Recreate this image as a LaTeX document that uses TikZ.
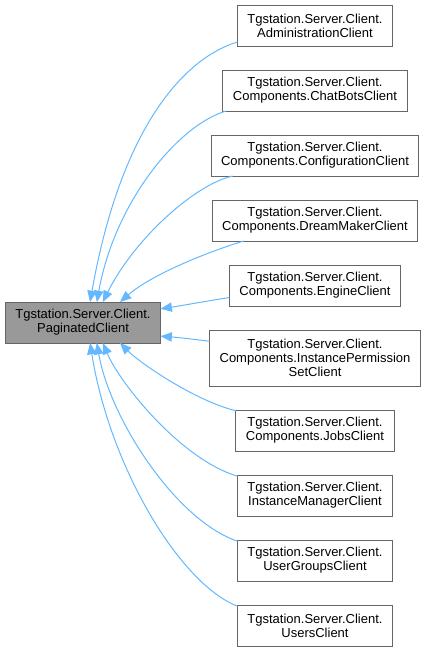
\documentclass[tikz,border=0pt]{standalone}
\usepackage{fontspec}
\setmainfont{Liberation Sans}
\usetikzlibrary{arrows.meta,chains,positioning}
\definecolor{edgeblue}{HTML}{63B8FF}
\definecolor{boxline}{HTML}{666666}
\definecolor{basefill}{HTML}{999999}

\begin{document}
\begin{tikzpicture}[
x=0.75pt, y=-0.75pt,
node distance=18pt,
 start chain = sub going below,
    cls/.style = {rectangle, draw=boxline, line width=0.75pt,% styles of class boxes
                  align=center, inner xsep=7.5pt, inner ysep=2pt,
                  minimum height=30.75pt, outer sep=0pt,
                  font=\fontsize{9.75}{10.5}\selectfont},
derived/.style = {cls, fill=white, on chain},% boxes in column (chain)
   edge/.style = {draw=edgeblue, line width=0.75pt,
                  -{Triangle[length=8.5pt,width=7pt]}},
                        ]
\useasboundingbox (0,0) rectangle (426,653);
\node[cls, fill=basefill] (base) at (83,322.5) {Tgstation.Server.Client.\\PaginatedClient};
\node[derived] at (315,25.5) {Tgstation.Server.Client.\\AdministrationClient};
\foreach \i in {ChatBotsClient,ConfigurationClient,DreamMakerClient,EngineClient}% <-- content of nodes
    \node[derived] {Tgstation.Server.Client.\\Components.\i};
\node[derived, minimum height=42pt] {Tgstation.Server.Client.\\Components.InstancePermission\\SetClient};
\node[derived] {Tgstation.Server.Client.\\Components.JobsClient};
\foreach \i in {InstanceManagerClient,UserGroupsClient,UsersClient}% <-- content of nodes
    \node[derived] {Tgstation.Server.Client.\\\i};
% inheritance edges
\foreach \j/\s/\e/\ax/\ay/\bx/\by in {
    1/192/71/-56/17/30/-170,
    2/193/56/-48/14/18/-100,
    3/194/46/-37/8/32/-64,
    4/196/29/-42/13/30/-26,
    5/188/10/-20/3/20/-3,
    6/171/-10/-15/-2/15/1,
    7/166/-29/-41/-10/20/20,
    8/166/-46/-57/-17/17/40,
    9/166/-56/-62/-21/13/75,
    10/166/-71/-57/-22/20/125}
    \draw[edge] (sub-\j.\s) .. controls +(\ax,\ay) and +(\bx,\by) .. (base.\e);
\end{tikzpicture}
\end{document}
